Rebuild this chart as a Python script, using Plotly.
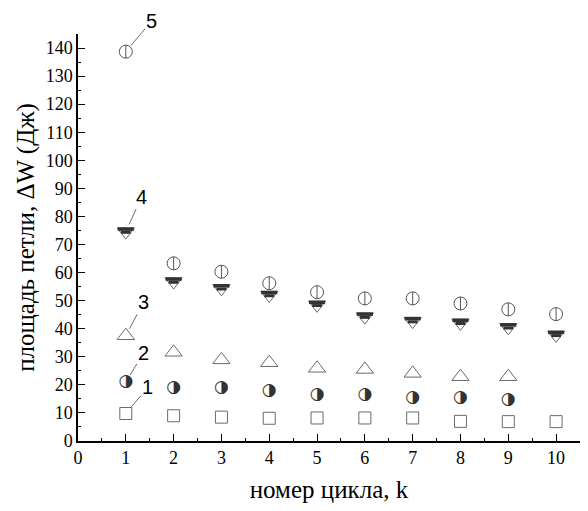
import plotly.graph_objects as go

k = [1, 2, 3, 4, 5, 6, 7, 8, 9, 10]
k9 = [1, 2, 3, 4, 5, 6, 7, 8, 9]

s1 = [9.8, 9.0, 8.5, 8.1, 8.2, 8.2, 8.2, 7.0, 6.9, 6.9]
s2 = [21.1, 19.0, 19.0, 18.0, 16.4, 16.4, 15.4, 15.4, 14.8]
s3 = [37.5, 31.6, 28.9, 27.9, 25.9, 25.5, 24.1, 22.9, 22.9]
s4 = [74.6, 56.8, 54.4, 52.0, 48.5, 44.3, 42.7, 42.1, 40.5, 37.8]
s5 = [138.7, 63.3, 60.3, 56.2, 53.0, 50.8, 50.8, 49.0, 46.9, 45.2]

labels = ["1", "2", "3", "4", "5"]
x_ticks = list(range(0, 11))
y_ticks = list(range(0, 141, 10))

GRAY = "#6a6a6a"
DARK = "#333333"

Y_RANGE = [0, 145]
PLOT_H = 511 - 34 - 70
UNITS_PER_PX = (Y_RANGE[1] - Y_RANGE[0]) / PLOT_H

fig = go.Figure()

# series 1: open squares
fig.add_trace(go.Scatter(x=k, y=s1, mode="markers",
                         marker=dict(symbol="square-open", size=12, color=GRAY, line=dict(width=1))))
# series 2: half-filled circles (right half dark)
fig.add_trace(go.Scatter(x=k9, y=s2, mode="text", text=["◑"] * len(k9),
                         textposition="middle center",
                         textfont=dict(family="DejaVu Sans", size=17, color=DARK)))
# series 3: open triangles up
fig.add_trace(go.Scatter(x=k9, y=s3, mode="markers",
                         marker=dict(symbol="triangle-up-open", size=15, color=GRAY, line=dict(width=1))))
# series 4: triangle down, top half filled (trapezoid built from two bars)
fig.add_trace(go.Scatter(x=k, y=s4, mode="markers",
                         marker=dict(symbol="triangle-down-open", size=15, color=GRAY, line=dict(width=1))))
fig.add_trace(go.Scatter(x=k, y=[v + 2.5 * UNITS_PER_PX for v in s4], mode="markers",
                         marker=dict(symbol="line-ew", size=11.5, color=DARK, line=dict(width=3.5, color=DARK))))
fig.add_trace(go.Scatter(x=k, y=[v - 0.7 * UNITS_PER_PX for v in s4], mode="markers",
                         marker=dict(symbol="line-ew", size=7, color=DARK, line=dict(width=3, color=DARK))))
# series 5: circle with vertical line
fig.add_trace(go.Scatter(x=k, y=s5, mode="markers",
                         marker=dict(symbol="circle-open", size=13, color="#555555", line=dict(width=1))))
fig.add_trace(go.Scatter(x=k, y=s5, mode="markers",
                         marker=dict(symbol="line-ns", size=9.3, color="#555555", line=dict(width=1, color="#555555"))))

series_first = [s1[0], s2[0], s3[0], s4[0], s5[0]]
offsets = [(22, -26), (18, -29), (18, -34), (16, -35), (26, -31)]
for lab, yv, (ax, ay) in zip(labels, series_first, offsets):
    fig.add_annotation(x=k[0], y=yv, text=lab, showarrow=True, arrowhead=0,
                       arrowwidth=1, arrowcolor=GRAY, ax=ax, ay=ay, standoff=8,
                       font=dict(family="Liberation Sans", size=20, color="black"))

axis_common = dict(
    showline=True, linecolor="black", linewidth=1.5, mirror=False,
    showgrid=False, zeroline=False, automargin=False,
    ticks="inside", ticklen=7, tickwidth=1.3, tickcolor="black",
    tickfont=dict(family="Liberation Serif", size=18, color="black"),
)

fig.update_xaxes(range=[0, 10.5], tickvals=x_ticks, ticktext=[str(v) for v in x_ticks],
                 minor=dict(ticks="inside", ticklen=3.5, tickwidth=1, tickcolor="black", dtick=0.5, tick0=0),
                 title=dict(text="номер цикла, k", standoff=13,
                            font=dict(family="Liberation Serif", size=25, color="black")),
                 **axis_common)
fig.update_yaxes(range=Y_RANGE, tickvals=y_ticks, ticktext=[str(v) for v in y_ticks],
                 minor=dict(ticks="inside", ticklen=3.5, tickwidth=1, tickcolor="black", dtick=5, tick0=0),
                 title=dict(text="площадь петли, ΔW (Дж)", standoff=4,
                            font=dict(family="Liberation Serif", size=25, color="black")),
                 **axis_common)

fig.update_layout(width=588, height=511, showlegend=False,
                  plot_bgcolor="white", paper_bgcolor="white",
                  margin=dict(l=78, r=8, t=34, b=70))

fig.write_html("out.html", config={"displayModeBar": False},
               post_script="document.body.style.margin='0';")
